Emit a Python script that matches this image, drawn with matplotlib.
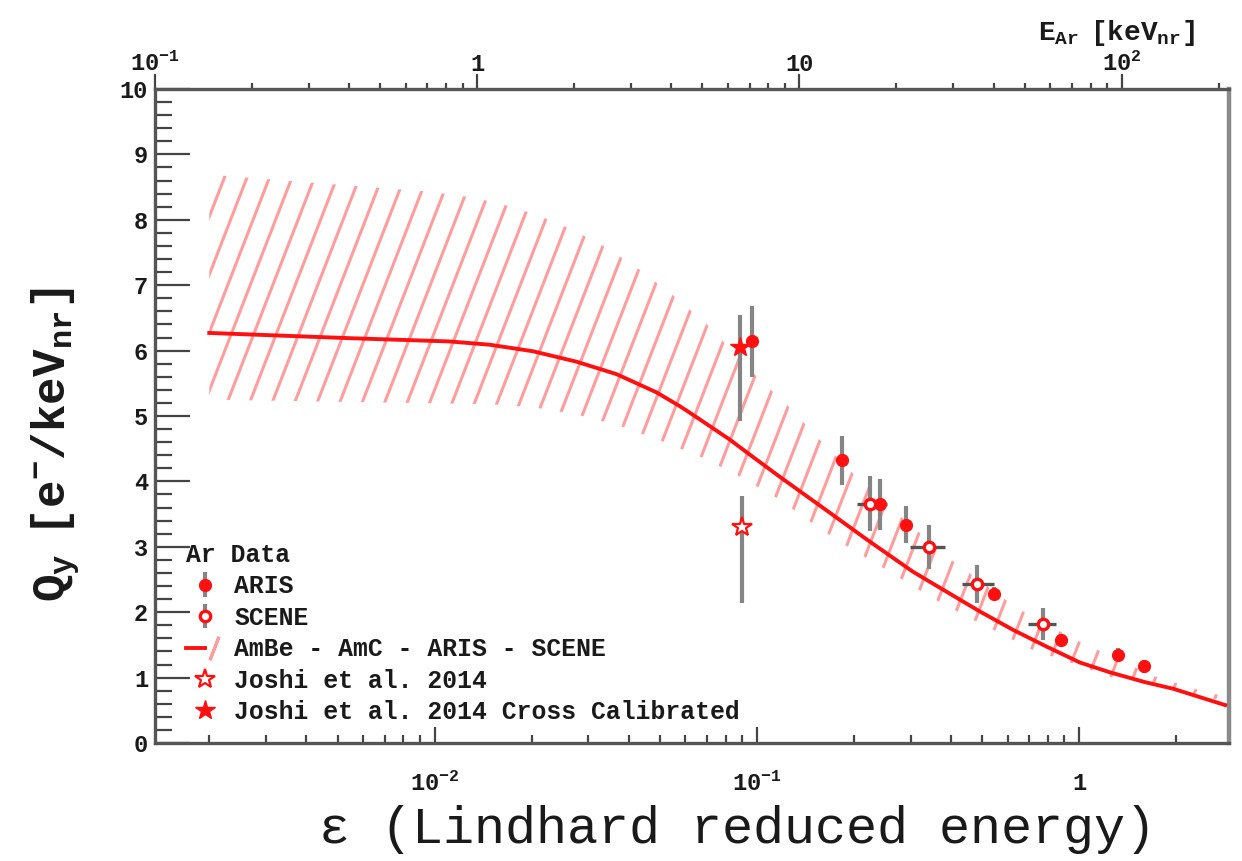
import numpy as np
import matplotlib
matplotlib.use('Agg')
import matplotlib.pyplot as plt
from matplotlib.collections import LineCollection
from matplotlib.lines import Line2D
from matplotlib.ticker import MultipleLocator, NullFormatter, LogLocator
from matplotlib.legend_handler import HandlerTuple
from matplotlib.font_manager import FontProperties

# ---------------- data ----------------
curve_eps = [0.00200, 0.0033, 0.00545, 0.01113, 0.01482, 0.0202, 0.0276, 0.0367,
             0.0489, 0.0577, 0.0651, 0.0824, 0.0951, 0.1179, 0.1686, 0.2197,
             0.305, 0.389, 0.4928, 0.624, 0.796, 1.007, 1.248, 1.603, 1.958,
             2.376, 2.84]
curve_q = [6.27, 6.23, 6.19, 6.14, 6.09, 5.99, 5.83, 5.64,
           5.36, 5.15, 4.98, 4.64, 4.41, 4.07, 3.52, 3.11,
           2.62, 2.31, 2.01, 1.73, 1.47, 1.23, 1.08, 0.93, 0.83,
           0.70, 0.58]

band_hi_eps = [0.00200, 0.00226, 0.00365, 0.00593, 0.00965, 0.0132, 0.0177, 0.0239,
               0.0319, 0.0418, 0.0545, 0.0700, 0.100, 0.1265, 0.160, 0.2045, 0.264,
               0.389, 0.647, 0.993, 1.734, 2.36, 2.84]
band_hi_q = [8.70, 8.67, 8.59, 8.51, 8.43, 8.34, 8.19, 7.96,
             7.66, 7.29, 6.86, 6.40, 5.60, 5.13, 4.59, 4.06, 3.57,
             2.85, 2.05, 1.56, 1.01, 0.81, 0.71]
band_lo_eps = [0.00200, 0.01482, 0.0205, 0.0278, 0.0381, 0.0511, 0.0680, 0.0898,
               0.1179, 0.1535, 0.1987, 0.264, 0.3495, 0.462, 0.606, 0.695, 0.951,
               1.266, 1.722, 2.325, 2.84]
band_lo_q = [5.25, 5.18, 5.13, 5.02, 4.84, 4.61, 4.36, 4.06,
             3.72, 3.31, 2.95, 2.59, 2.22, 1.90, 1.61, 1.45, 1.22,
             1.00, 0.92, 0.70, 0.66]

aris_eps = [0.0965, 0.1836, 0.241, 0.290, 0.545, 0.880, 1.32, 1.59]
aris_q = [6.14, 4.32, 3.65, 3.34, 2.28, 1.58, 1.35, 1.17]
aris_err = [0.54, 0.37, 0.39, 0.28, 0.10, 0.08, 0.10, 0.10]

scene_eps = [0.2244, 0.342, 0.482, 0.773]
scene_q = [3.66, 3.00, 2.43, 1.82]
scene_err = [0.42, 0.34, 0.29, 0.24]
scene_eps_lo = [0.2045, 0.2986, 0.4331, 0.694]
scene_eps_hi = [0.2535, 0.3833, 0.5443, 0.848]

joshi_eps = [0.0898]
joshi_q = [3.31]
joshi_q_lo = [2.14]
joshi_q_hi = [3.78]

joshicc_eps = [0.0886]
joshicc_q = [6.05]
joshicc_q_lo = [4.92]
joshicc_q_hi = [6.55]

EPS_TO_KEV = 73.7   # E_Ar [keVnr] per unit of Lindhard epsilon

bottom_ticks = [0.01, 0.1, 1]
bottom_labels = [r'$10^{-2}$', r'$10^{-1}$', '1']
top_ticks = [0.1, 1, 10, 100]
top_labels = [r'$10^{-1}$', '1', '10', r'$10^{2}$']
y_ticks = list(range(0, 11))

legend_labels = ['ARIS', 'SCENE', 'AmBe - AmC - ARIS - SCENE',
                 'Joshi et al. 2014', 'Joshi et al. 2014 Cross Calibrated']

# ---------------- style ----------------
plt.rcParams['font.family'] = ['Liberation Mono', 'DejaVu Sans']
plt.rcParams['font.weight'] = 'bold'
plt.rcParams['mathtext.fontset'] = 'custom'
plt.rcParams['mathtext.rm'] = 'Liberation Mono:bold'
plt.rcParams['mathtext.it'] = 'Liberation Mono:bold'
plt.rcParams['mathtext.bf'] = 'Liberation Mono:bold'
plt.rcParams['mathtext.default'] = 'rm'

TXT = '#1a1a1a'
FRAME = '#555555'
RED = '#ff1010'
HATCH = '#ff9d9d'
EBAR = '#858585'

fig = plt.figure(figsize=(12.42, 8.61), dpi=100)
ax = fig.add_axes([155 / 1242, 118 / 861, 1074 / 1242, 654 / 861])
ax.set_xscale('log')
ax.set_xlim(0.1 / EPS_TO_KEV, 2.92)
ax.set_ylim(0, 10)

# ---- hatched band ----
band_x = np.concatenate([band_hi_eps, band_lo_eps[::-1]])
band_y = np.concatenate([band_hi_q, band_lo_q[::-1]])
poly, = ax.fill(band_x, band_y, facecolor='none', edgecolor='none')
W_px = 1074.0
H_px = 654.0
slope_ax = np.tan(np.radians(68.8)) * W_px / H_px
dx_tot = 1.0 / slope_ax
spacing = 22.5 / W_px
offsets = np.arange(-dx_tot - 0.05, 1.05, spacing)
segs = [[(c, 0.0), (c + dx_tot, 1.0)] for c in offsets]
lc = LineCollection(segs, colors=HATCH, linewidths=2.2, transform=ax.transAxes, zorder=2)
lc.set_clip_path(poly)
ax.add_collection(lc, autolim=False)

# ---- curve ----
ax.plot(curve_eps, curve_q, color=RED, lw=2.8, zorder=3, solid_joinstyle='round')

# ---- data points ----
scene_eps_a = np.array(scene_eps)
scene_xerr = [scene_eps_a - np.array(scene_eps_lo), np.array(scene_eps_hi) - scene_eps_a]
ax.errorbar(scene_eps, scene_q, xerr=scene_xerr, fmt='none', ecolor='#555555',
            elinewidth=2.4, capsize=0, zorder=4)
h_scene = ax.errorbar(scene_eps, scene_q, yerr=scene_err, fmt='o', ms=7.5,
                      mfc='white', mec=RED, mew=2.4, ecolor=EBAR, elinewidth=3,
                      capsize=0, zorder=6)
h_aris = ax.errorbar(aris_eps, aris_q, yerr=aris_err, fmt='o', ms=8.5, color=RED,
                     ecolor=EBAR, elinewidth=3, capsize=0, zorder=6)

jq = np.array(joshi_q)
ax.errorbar(joshi_eps, joshi_q, yerr=[jq - np.array(joshi_q_lo), np.array(joshi_q_hi) - jq],
            fmt='none', ecolor=EBAR, elinewidth=3, capsize=0, zorder=4)
h_joshi, = ax.plot(joshi_eps, joshi_q, ls='none', marker='*', ms=15, mfc='white',
                   mec=RED, mew=1.6, zorder=6)
jcq = np.array(joshicc_q)
ax.errorbar(joshicc_eps, joshicc_q,
            yerr=[jcq - np.array(joshicc_q_lo), np.array(joshicc_q_hi) - jcq],
            fmt='none', ecolor=EBAR, elinewidth=3, capsize=0, zorder=4)
h_joshicc, = ax.plot(joshicc_eps, joshicc_q, ls='none', marker='*', ms=15,
                     color=RED, zorder=6)

# ---- axes, ticks ----
for s in ax.spines.values():
    s.set_color(FRAME)
    s.set_linewidth(2.4)
ax.spines['right'].set_color('#8a8a8a')
ax.spines['right'].set_linewidth(3.2)

ax.set_xticks(bottom_ticks, labels=bottom_labels)
ax.xaxis.set_minor_locator(LogLocator(base=10, subs=np.arange(2, 10)))
ax.xaxis.set_minor_formatter(NullFormatter())
ax.set_yticks(y_ticks)
ax.yaxis.set_minor_locator(MultipleLocator(0.2))

ax.tick_params(axis='x', which='both', direction='in', bottom=True, top=False,
               colors='#444444', labelcolor=TXT, labelsize=17, width=1.6)
ax.tick_params(axis='x', which='major', length=11.5, pad=21)
ax.tick_params(axis='x', which='minor', length=5.8)
ax.tick_params(axis='y', which='both', direction='in', left=True, right=False,
               colors='#444444', labelcolor=TXT, labelsize=17, width=1.6)
ax.tick_params(axis='y', which='major', length=25, pad=5)
ax.tick_params(axis='y', which='minor', length=12.5)

secax = ax.secondary_xaxis('top', functions=(lambda e: e * EPS_TO_KEV,
                                              lambda E: E / EPS_TO_KEV))
secax.set_xticks(top_ticks, labels=top_labels)
secax.xaxis.set_minor_locator(LogLocator(base=10, subs=np.arange(2, 10)))
secax.xaxis.set_minor_formatter(NullFormatter())
secax.spines['top'].set_visible(False)
secax.tick_params(axis='x', which='both', direction='out', colors='#444444',
                  labelcolor=TXT, labelsize=17, width=1.6)
secax.tick_params(axis='x', which='major', length=11, pad=-2)
secax.tick_params(axis='x', which='minor', length=4)

# ---- labels ----
ax.set_xlabel('\u03b5 (Lindhard reduced energy)', fontsize=37.3, color=TXT,
              ha='right', va='center')
ax.xaxis.set_label_coords((1156 - 155) / 1074, (743 - 830) / 654)
ax.set_ylabel(r'$\mathrm{Q_{y}\ \ [e^{-}/keV_{nr}]}$', fontsize=33, color=TXT,
              va='center', ha='center')
ax.yaxis.set_label_coords((56 - 155) / 1074, (743 - 445) / 654)
ax.text((1195 - 155) / 1074, (743 - 33) / 654, r'$\mathrm{E_{Ar}\ \ [keV_{nr}]}$',
        transform=ax.transAxes, ha='right', va='center', fontsize=20, color=TXT)

# ---- legend ----
h_ambe = (Line2D([], [], color=RED, lw=2.8),
          Line2D([], [], color=HATCH, marker=(2, 2, -21), ms=18, mew=2.2, ls='none'))
fp = FontProperties(family='Liberation Mono', weight='bold', size=17.8)
leg = ax.legend([h_aris, h_scene, h_ambe, h_joshi, h_joshicc], legend_labels,
                title='Ar Data', loc='lower left', bbox_to_anchor=(0.029, 0.029),
                frameon=False, prop=fp, title_fontproperties=fp, alignment='left',
                handlelength=1.5, handletextpad=0.45, labelspacing=0.3,
                borderpad=0, borderaxespad=0,
                handler_map={tuple: HandlerTuple(ndivide=None)})
for t in leg.get_texts():
    t.set_color(TXT)
leg.get_title().set_color(TXT)

fig.savefig('out.png', dpi=100)
